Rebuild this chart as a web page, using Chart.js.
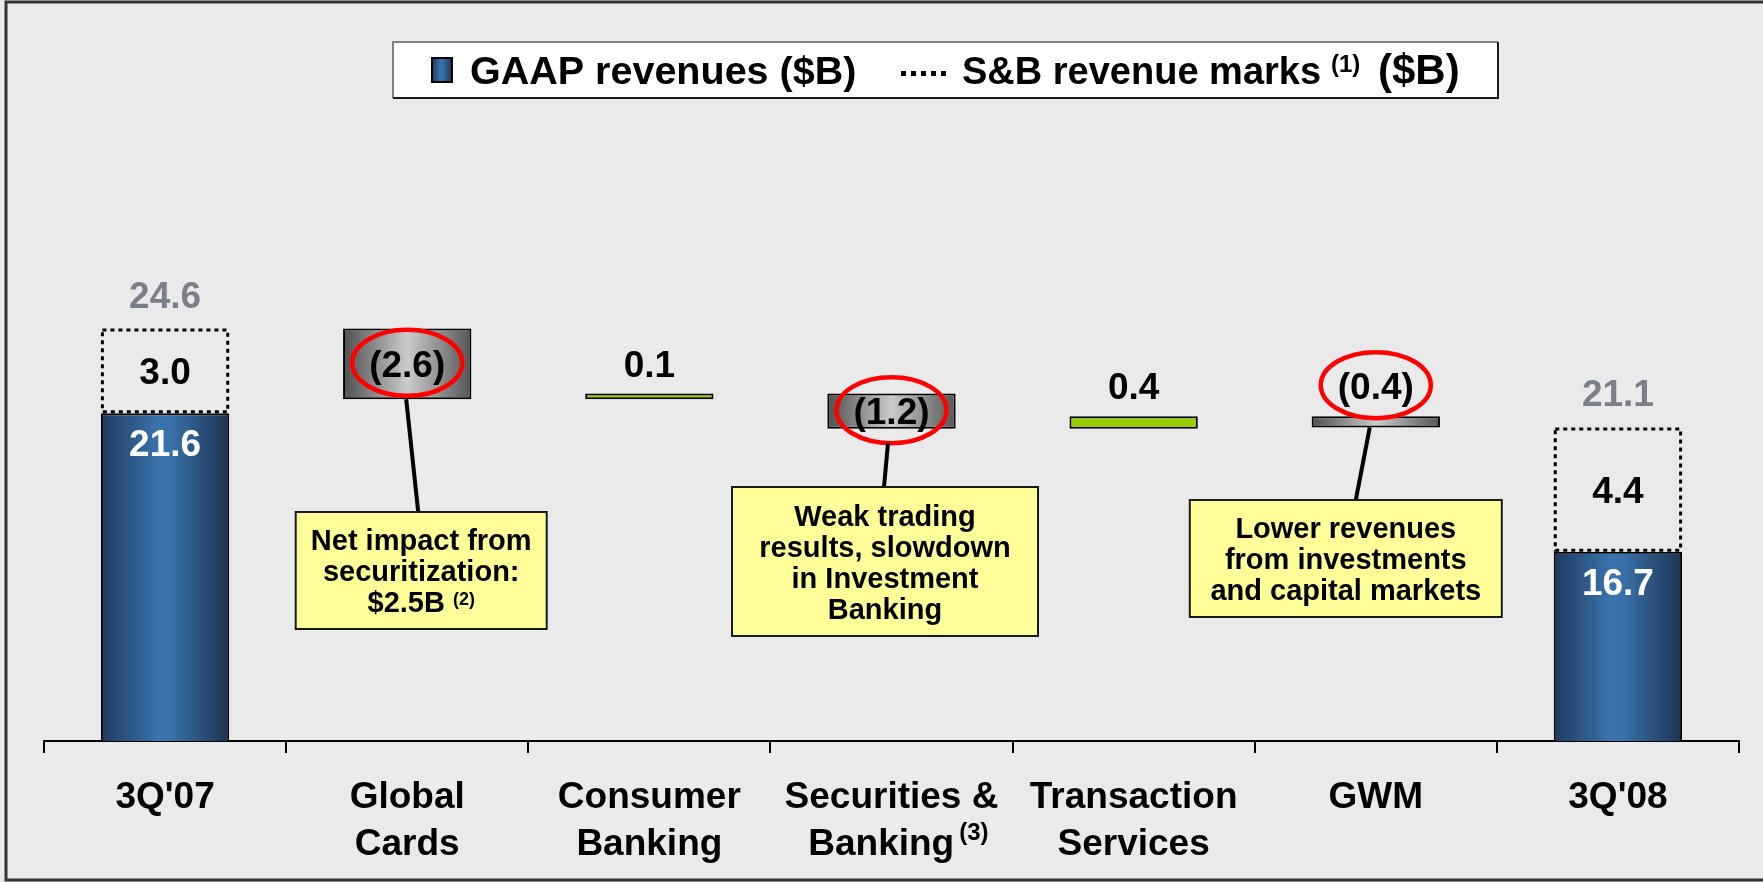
<!DOCTYPE html>
<html><head><meta charset="utf-8">
<script src="https://cdn.jsdelivr.net/npm/chart.js@4.4.0/dist/chart.umd.min.js"></script>
<style>html,body{margin:0;padding:0;background:#EAEAEA;}canvas{display:block;}</style>
</head><body>
<canvas id="c" width="1763" height="882"></canvas>
<script>
// ---------------- DATA ----------------
const categories = [["3Q'07"], ["Global", "Cards"], ["Consumer", "Banking"], ["Securities &", "Banking"], ["Transaction", "Services"], ["GWM"], ["3Q'08"]];
const categoryNotes = [null, null, null, "(3)", null, null, null];
const gaapRevenue = [21.6, null, null, null, null, null, 16.7];
const sbMarks = [3.0, null, null, null, null, null, 4.4];
const totalRevenue = [24.6, null, null, null, null, null, 21.1];
const segmentChange = [null, -2.6, 0.1, -1.2, 0.4, -0.4, null];
// running level of the waterfall (bar edges)
const waterfallLevels = [24.6, 22.1, 22.3, 21.05, 21.5, 21.1];
const yRange = [10, 30];
const annotationText = {
  1: ["Net impact from", "securitization:", "$2.5B"],
  3: ["Weak trading", "results, slowdown", "in Investment", "Banking"],
  5: ["Lower revenues", "from investments", "and capital markets"]
};
const annotationNote = { 1: "(2)" };
const legendLabels = ["GAAP revenues ($B)", "S&B revenue marks", "(1)", "($B)"];

// ---------------- BUILD ----------------
const marksData = categories.map((_, i) => sbMarks[i] == null ? null : [gaapRevenue[i], gaapRevenue[i] + sbMarks[i]]);
const segRange = i => [waterfallLevels[i - 1], waterfallLevels[i]];
const declineData = segmentChange.map((v, i) => (v != null && v < 0) ? segRange(i) : null);
const increaseData = segmentChange.map((v, i) => (v != null && v >= 0) ? segRange(i) : null);
const fmt = v => v < 0 ? "(" + Math.abs(v).toFixed(1) + ")" : v.toFixed(1);

// ---------------- STYLE ----------------
const FONT = '"Liberation Sans", Arial, Helvetica, sans-serif';
const font = px => `bold ${px}px ${FONT}`;
const BAR_PCT = 0.53;
const BLUE = [[0, "#1E3A5E"], [0.45, "#3A74AE"], [0.55, "#3870A8"], [1, "#1D3350"]];
const GREY = [[0, "#4E4E4E"], [0.5, "#CBCBCB"], [1, "#555555"]];

function hGradient(context, stops) {
  const chart = context.chart, area = chart.chartArea;
  if (!area) return stops[1][1];
  const cx = chart.scales.x.getPixelForValue(context.dataIndex);
  const half = (area.right - area.left) / categories.length * BAR_PCT / 2;
  const g = chart.ctx.createLinearGradient(cx - half, 0, cx + half, 0);
  stops.forEach(([o, c]) => g.addColorStop(o, c));
  return g;
}

// layout of annotation call-outs (pixels relative to category centre)
const NOTE_LAYOUT = {
  1: { dx: 14, top: 512, w: 251, h: 117, from: -1, to: 11 },
  3: { dx: -6.5, top: 487, w: 306, h: 149, from: -3.5, to: -7.5 },
  5: { dx: -30, top: 500, w: 312, h: 117, from: -6, to: -20 }
};

function txt(ctx, s, x, y, px, color, align) {
  ctx.font = font(px); ctx.fillStyle = color; ctx.textAlign = align || "center"; ctx.textBaseline = "alphabetic";
  ctx.fillText(s, x, y);
}

const decorations = {
  id: "decorations",
  beforeDraw(chart) {
    const ctx = chart.ctx;
    ctx.save(); ctx.fillStyle = "#EAEAEA"; ctx.fillRect(0, 0, chart.width, chart.height); ctx.restore();
  },
  afterDraw(chart) {
    const ctx = chart.ctx;
    const xs = chart.scales.x;
    const mGaap = chart.getDatasetMeta(0), mMarks = chart.getDatasetMeta(1),
          mDec = chart.getDatasetMeta(2), mInc = chart.getDatasetMeta(3);
    ctx.save();
    // dotted S&B boxes + totals
    categories.forEach((_, i) => {
      if (marksData[i]) {
        const el = mMarks.data[i];
        const top = Math.min(el.y, el.base), bot = Math.max(el.y, el.base);
        ctx.setLineDash([4, 4]); ctx.lineWidth = 3; ctx.strokeStyle = "#000";
        ctx.strokeRect(el.x - el.width / 2 + 1.5, top + 1.5, el.width - 3, bot - top - 3);
        ctx.setLineDash([]);
        txt(ctx, sbMarks[i].toFixed(1), el.x, (top + bot) / 2 + 13, 37, "#000");
        txt(ctx, totalRevenue[i].toFixed(1), el.x, top - 21, 37, "#7A7F8B");
      }
      if (gaapRevenue[i] != null) {
        const el = mGaap.data[i];
        const top = Math.min(el.y, el.base);
        txt(ctx, gaapRevenue[i].toFixed(1), el.x, top + 43, 37, "#FFFFFF");
      }
    });
    // segment labels, ellipses, call-outs
    categories.forEach((_, i) => {
      const v = segmentChange[i];
      if (v == null) return;
      const el = (v < 0 ? mDec : mInc).data[i];
      const top = Math.min(el.y, el.base), bot = Math.max(el.y, el.base);
      let baseY;
      if (bot - top > 30) baseY = (top + bot) / 2 + 13; else baseY = top - 17;
      txt(ctx, fmt(v), el.x, baseY, 37, "#000");
      let lineStart = bot;
      if (v < 0) {
        const cy = baseY - 14;
        ctx.beginPath(); ctx.ellipse(el.x, cy, 55, 33, 0, 0, Math.PI * 2);
        ctx.lineWidth = 4.5; ctx.strokeStyle = "#FF0000"; ctx.stroke();
        lineStart = Math.max(bot, cy + 33);
      }
      const L = NOTE_LAYOUT[i];
      if (L && annotationText[i]) {
        const cx = xs.getPixelForValue(i);
        ctx.beginPath(); ctx.moveTo(cx + L.from, lineStart); ctx.lineTo(cx + L.to, L.top);
        ctx.lineWidth = 4; ctx.strokeStyle = "#000"; ctx.stroke();
        const bx = cx + L.dx - L.w / 2;
        ctx.fillStyle = "#FFFF99"; ctx.fillRect(bx, L.top, L.w, L.h);
        ctx.lineWidth = 2; ctx.strokeStyle = "#1A1A1A"; ctx.strokeRect(bx, L.top, L.w, L.h);
        const lines = annotationText[i];
        const lh = 31;
        const first = L.top + L.h / 2 - (lines.length - 1) * lh / 2 + 10.5;
        lines.forEach((s, k) => {
          const y = first + k * lh;
          const note = annotationNote[i];
          if (note && k === lines.length - 1) {
            ctx.font = font(29); const w1 = ctx.measureText(s).width;
            ctx.font = font(18); const w2 = ctx.measureText(note).width;
            const gap = 8, tot = w1 + gap + w2, x0 = cx + L.dx - tot / 2;
            txt(ctx, s, x0, y, 29, "#000", "left");
            txt(ctx, note, x0 + w1 + gap, y - 7, 18, "#000", "left");
          } else {
            txt(ctx, s, cx + L.dx, y, 29, "#000");
          }
        });
      }
    });
    // superscript on axis label
    categories.forEach((lines, i) => {
      const note = categoryNotes[i];
      if (!note) return;
      const cx = xs.getPixelForValue(i);
      const last = lines[lines.length - 1];
      ctx.font = font(37);
      const wl = ctx.measureText(last).width, wPad = ctx.measureText(last + "  ").width;
      const x0 = cx - wPad / 2 + wl + 5;
      txt(ctx, note, x0, 840, 24, "#000", "left");
    });
    // legend
    ctx.fillStyle = "#FFFFFF"; ctx.fillRect(393, 41, 1105, 57);
    ctx.lineWidth = 2;
    ctx.strokeStyle = "#808080"; ctx.beginPath(); ctx.moveTo(393, 98); ctx.lineTo(393, 42); ctx.lineTo(1498, 42); ctx.stroke();
    ctx.strokeStyle = "#1A1A1A"; ctx.beginPath(); ctx.moveTo(1498, 42); ctx.lineTo(1498, 98); ctx.lineTo(393, 98); ctx.stroke();
    const g = ctx.createLinearGradient(432, 0, 452, 0);
    BLUE.forEach(([o, c]) => g.addColorStop(o, c));
    ctx.fillStyle = g; ctx.fillRect(432, 58, 20, 24);
    ctx.lineWidth = 2; ctx.strokeStyle = "#000"; ctx.strokeRect(432, 58, 20, 24);
    txt(ctx, legendLabels[0], 470, 84, 39.5, "#000", "left");
    ctx.fillStyle = "#000";
    for (let k = 0; k < 5; k++) ctx.fillRect(901 + k * 10, 71, 5, 5);
    txt(ctx, legendLabels[1], 962, 84, 38, "#000", "left");
    txt(ctx, legendLabels[2], 1331, 72, 24, "#000", "left");
    txt(ctx, legendLabels[3], 1378, 84, 42, "#000", "left");
    // frame
    ctx.strokeStyle = "#333"; ctx.lineWidth = 3;
    ctx.beginPath(); ctx.moveTo(1763, 2); ctx.lineTo(6, 2); ctx.lineTo(6, 880); ctx.lineTo(1763, 880); ctx.stroke();
    ctx.restore();
  }
};

new Chart(document.getElementById("c"), {
  type: "bar",
  data: {
    labels: categories,
    datasets: [
      { label: "GAAP revenues ($B)", data: gaapRevenue, backgroundColor: c => hGradient(c, BLUE), borderColor: "#000", borderWidth: 2, borderSkipped: false },
      { label: "S&B revenue marks ($B)", data: marksData, backgroundColor: "rgba(0,0,0,0)", borderWidth: 0 },
      { label: "Decrease", data: declineData, backgroundColor: c => hGradient(c, GREY), borderColor: "#000", borderWidth: 2, borderSkipped: false },
      { label: "Increase", data: increaseData, backgroundColor: "#99CC00", borderColor: "#000", borderWidth: 2, borderSkipped: false }
    ]
  },
  options: {
    responsive: false, animation: false, devicePixelRatio: 1,
    layout: { padding: { top: 176, left: 44, right: 24, bottom: 0 } },
    datasets: { bar: { categoryPercentage: 1, barPercentage: BAR_PCT, grouped: false } },
    plugins: { legend: { display: false }, tooltip: { enabled: false } },
    scales: {
      x: {
        offset: true,
        grid: { offset: true, drawOnChartArea: false, drawTicks: true, tickLength: 12, color: "#000", lineWidth: 2 },
        border: { display: true, color: "#000", width: 2 },
        ticks: {
          font: { family: FONT, size: 37, weight: "bold", lineHeight: 1.27 }, color: "#000", padding: 21,
          maxRotation: 0, minRotation: 0, autoSkip: false,
          callback: (v, i) => {
            const lines = categories[i].slice();
            if (categoryNotes[i]) lines[lines.length - 1] += "  ";
            return lines;
          }
        },
        afterFit: s => { s.height = 141; }
      },
      y: { display: false, min: yRange[0], max: yRange[1] }
    }
  },
  plugins: [decorations]
});
</script>
</body></html>
